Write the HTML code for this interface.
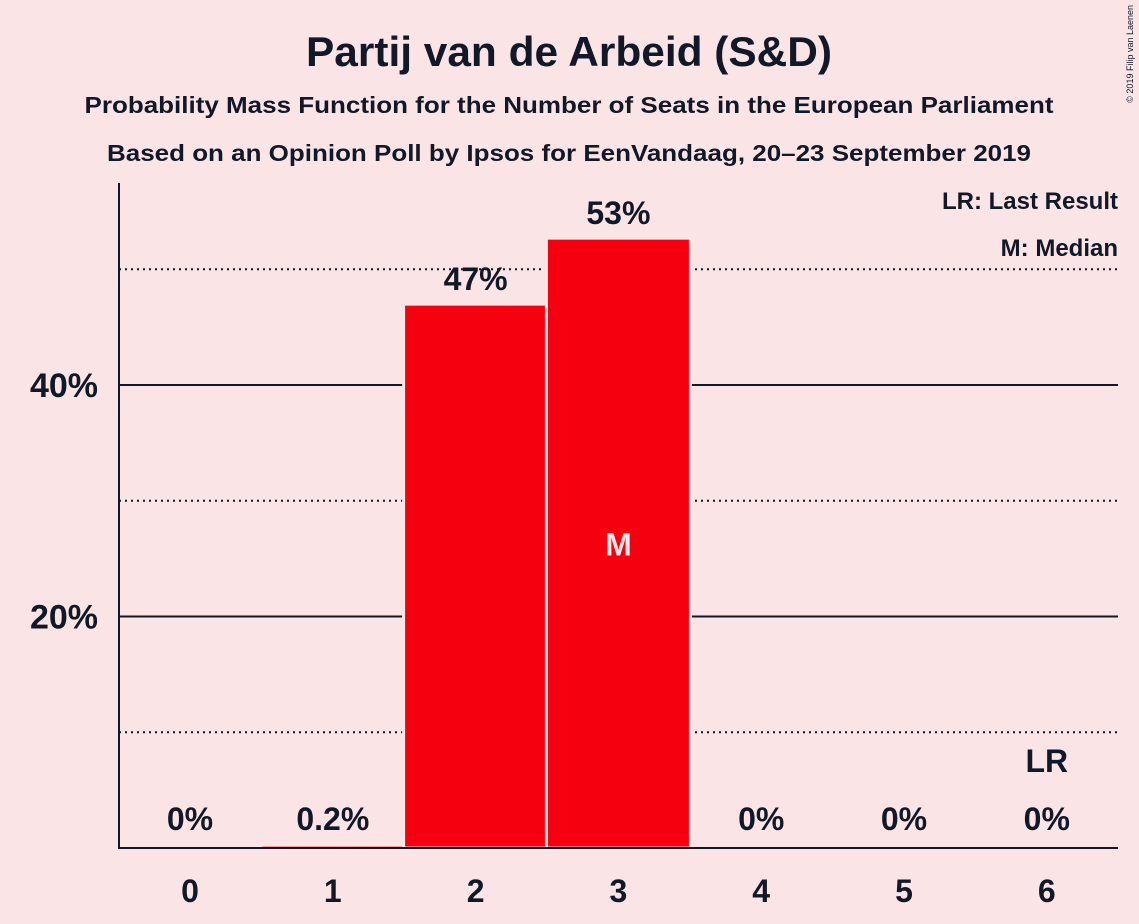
<!DOCTYPE html>
<html><head><meta charset="utf-8"><style>
body{margin:0;background:#fbe4e6;}
svg{display:block;font-family:"Liberation Sans",sans-serif;font-weight:bold;}
</style></head><body>
<svg id="c" width="1139" height="924">
<rect width="1139" height="924" fill="#fbe4e6"/>
<text x="569" y="66" text-anchor="middle" font-size="42" textLength="526" lengthAdjust="spacingAndGlyphs" fill="#111827">Partij van de Arbeid (S&amp;D)</text>
<text x="569" y="113" text-anchor="middle" font-size="23" textLength="969" lengthAdjust="spacingAndGlyphs" fill="#111827">Probability Mass Function for the Number of Seats in the European Parliament</text>
<text x="569" y="161" text-anchor="middle" font-size="23" textLength="924" lengthAdjust="spacingAndGlyphs" fill="#111827">Based on an Opinion Poll by Ipsos for EenVandaag, 20–23 September 2019</text>
<text x="1133" y="5" font-size="9" font-weight="normal" fill="#111827" transform="rotate(-90 1133 5)" text-anchor="end">© 2019 Filip van Laenen</text>
<text x="1118" y="209" text-anchor="end" font-size="24" fill="#111827">LR: Last Result</text>
<text x="1118" y="256" text-anchor="end" font-size="24" fill="#111827">M: Median</text>
<g id="grid"></g><g id="bars"></g><g id="labels"></g>
<line x1="119" y1="183" x2="119" y2="849" stroke="#111827" stroke-width="2"/>
<line x1="118" y1="848" x2="1118" y2="848" stroke="#111827" stroke-width="2"/>
</svg>
<script>
const seats=[0,1,2,3,4,5,6];
const probs=[0,0.2,46.9,52.6,0,0,0];
const valueLabels=["0%","0.2%","47%","53%","0%","0%","0%"];
const yTicks=[20,40];
const dotTicks=[10,30,50];
const medianSeat=3, lastResultSeat=6;
const ns="http://www.w3.org/2000/svg";
const y=v=>848-v*11.575;
const x=s=>190+s*142.8;
function mk(t,a,p){const e=document.createElementNS(ns,t);for(const k in a)e.setAttribute(k,a[k]);p.appendChild(e);return e;}
const G=document.getElementById('grid'),B=document.getElementById('bars'),L=document.getElementById('labels');
yTicks.forEach(v=>{const l=mk('line',{x1:119,x2:1118,y1:y(v),y2:y(v),stroke:'#111827','stroke-width':2},G);


const t=mk('text',{x:98,y:y(v)+12,'text-anchor':'end','font-size':34,fill:'#111827'},L);t.textContent=v+'%';

});
dotTicks.forEach(v=>{const l=mk('line',{x1:119,x2:1118,y1:y(v),y2:y(v),stroke:'#111827','stroke-width':2,'stroke-dasharray':'2 4'},G);

});
seats.forEach((s,i)=>{const p=probs[i];
if(p>0){const r=mk('rect',{x:x(s)-72,y:y(p)-1,width:144,height:848-y(p)+1,fill:'#f5000f',stroke:'#fbe4e6','stroke-width':3},B);

}
const ly=p>5?y(p)-15:y(0)-18;
const t=mk('text',{x:x(s),y:ly,'text-anchor':'middle','font-size':32,fill:'#111827'},L);t.textContent=valueLabels[i];


const xt=mk('text',{x:x(s),y:902,'text-anchor':'middle','font-size':32,fill:'#111827'},L);xt.textContent=s;

});
const m=mk('text',{x:x(medianSeat),y:y(probs[medianSeat]/2)+12,'text-anchor':'middle','font-size':32,fill:'#fbe4e6'},L);m.textContent='M';


const lr=mk('text',{x:x(lastResultSeat),y:772,'text-anchor':'middle','font-size':32,fill:'#111827'},L);lr.textContent='LR';


</script>
</body></html>
